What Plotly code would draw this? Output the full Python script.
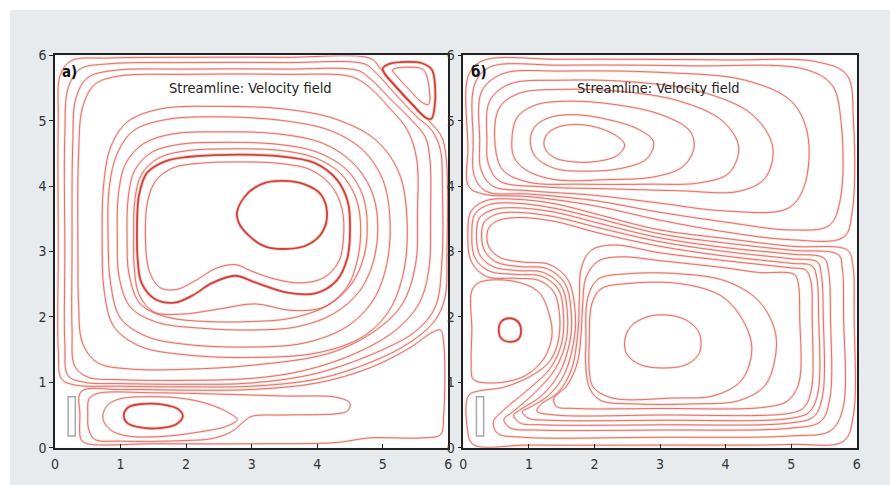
import plotly.graph_objects as go

# ---------------- a) streamlines (x, y in cavity units) ----------------
a_core = [(2.78, 3.62), (2.95, 3.9), (3.2, 4.05), (3.5, 4.08), (3.8, 4.03), (4.05, 3.88), (4.15, 3.6),
          (4.08, 3.3), (3.85, 3.1), (3.55, 3.04), (3.2, 3.08), (2.95, 3.25), (2.8, 3.45)]
a_m11 = [(1.38, 3.2), (1.42, 3.8), (1.55, 4.1), (1.8, 4.28), (2.2, 4.35), (2.8, 4.37), (3.4, 4.35), (3.9, 4.25),
         (4.22, 4.0), (4.38, 3.65), (4.4, 3.2), (4.33, 2.85), (4.1, 2.6), (3.75, 2.52), (3.35, 2.58), (3.0, 2.7),
         (2.75, 2.8), (2.45, 2.74), (2.15, 2.56), (1.85, 2.42), (1.6, 2.45), (1.44, 2.7)]
a_m10 = [(1.25, 3.2), (1.28, 3.85), (1.4, 4.2), (1.68, 4.38), (2.05, 4.45), (2.6, 4.48), (3.4, 4.46), (3.95, 4.36),
         (4.3, 4.1), (4.47, 3.75), (4.5, 3.3), (4.46, 2.9), (4.3, 2.56), (3.97, 2.36), (3.55, 2.37), (3.05, 2.53),
         (2.75, 2.63), (2.4, 2.52), (2.1, 2.33), (1.83, 2.22), (1.53, 2.27), (1.32, 2.52), (1.26, 2.9)]
a_m9 = [(1.2, 3.2), (1.22, 3.8), (1.32, 4.18), (1.58, 4.43), (2.0, 4.54), (2.6, 4.57), (3.4, 4.55), (3.95, 4.44),
        (4.35, 4.2), (4.58, 3.85), (4.66, 3.45), (4.62, 2.9), (4.45, 2.45), (4.1, 2.15), (3.6, 2.1), (3.05, 2.2),
        (2.5, 2.12), (1.9, 2.04), (1.5, 2.08), (1.28, 2.35), (1.21, 2.75)]
a_m8 = [(1.10, 3.2), (1.12, 3.85), (1.22, 4.25), (1.48, 4.52), (1.9, 4.64), (2.5, 4.67), (3.4, 4.64), (4.0, 4.52),
        (4.45, 4.25), (4.68, 3.9), (4.76, 3.5), (4.72, 2.95), (4.52, 2.5), (4.15, 2.17), (3.6, 1.98), (3.0, 1.93),
        (2.3, 1.93), (1.7, 2.0), (1.3, 2.2), (1.13, 2.65)]
a_m7 = [(0.95, 3.2), (0.97, 3.9), (1.08, 4.35), (1.35, 4.65), (1.8, 4.8), (2.5, 4.83), (3.4, 4.8), (4.1, 4.65),
        (4.55, 4.35), (4.82, 3.95), (4.92, 3.5), (4.87, 2.9), (4.65, 2.4), (4.25, 2.05), (3.7, 1.85), (3.0, 1.8),
        (2.2, 1.83), (1.55, 1.92), (1.15, 2.15), (0.98, 2.6)]
a_m6 = [(0.81, 3.2), (0.83, 4.0), (0.95, 4.5), (1.2, 4.85), (1.7, 5.02), (2.5, 5.06), (3.5, 5.0), (4.2, 4.85),
        (4.7, 4.55), (5.0, 4.1), (5.11, 3.5), (5.06, 2.8), (4.85, 2.25), (4.45, 1.85), (3.8, 1.6), (3.0, 1.54),
        (2.0, 1.58), (1.4, 1.7), (1.0, 1.98), (0.85, 2.5)]
a_m5 = [(0.72, 3.2), (0.74, 4.0), (0.85, 4.6), (1.1, 4.98), (1.6, 5.18), (2.5, 5.22), (3.5, 5.18), (4.3, 5.02),
        (4.9, 4.7), (5.25, 4.2), (5.37, 3.5), (5.32, 2.7), (5.1, 2.1), (4.7, 1.7), (4.0, 1.45), (3.0, 1.38),
        (2.0, 1.42), (1.3, 1.55), (0.9, 1.85), (0.75, 2.4)]
a_o1 = [(0.35, 3.0), (0.36, 4.5), (0.42, 5.2), (0.6, 5.55), (0.95, 5.68), (2.0, 5.71), (3.5, 5.71), (4.5, 5.68),
        (4.75, 5.55), (5.1, 5.2), (5.38, 4.85), (5.52, 4.4), (5.53, 3.6), (5.5, 2.8), (5.3, 2.2), (4.9, 1.8),
        (4.2, 1.45), (3.0, 1.26), (2.0, 1.2), (1.2, 1.2), (0.65, 1.3), (0.42, 1.6), (0.36, 2.2)]
a_o2 = [(0.26, 3.0), (0.27, 4.6), (0.32, 5.35), (0.5, 5.66), (0.9, 5.77), (2.0, 5.79), (3.5, 5.79), (4.62, 5.77),
        (4.8, 5.65), (5.15, 5.3), (5.45, 5.0), (5.65, 4.75), (5.72, 4.4), (5.73, 3.6), (5.7, 2.7), (5.55, 2.2),
        (5.2, 1.8), (4.6, 1.45), (3.8, 1.18), (3.0, 1.06), (2.0, 1.03), (1.0, 1.04), (0.5, 1.08), (0.3, 1.25),
        (0.26, 1.8)]
a_o3 = [(0.15, 3.0), (0.15, 4.8), (0.2, 5.5), (0.38, 5.79), (0.8, 5.87), (2.0, 5.89), (3.5, 5.89), (4.72, 5.87),
        (4.88, 5.75), (5.2, 5.4), (5.5, 5.08), (5.75, 4.85), (5.88, 4.55), (5.91, 4.0), (5.9, 2.8), (5.8, 2.15),
        (5.5, 1.78), (5.0, 1.5), (4.0, 1.14), (3.0, 0.99), (2.0, 0.97), (1.0, 0.98), (0.45, 1.0), (0.2, 1.1),
        (0.15, 1.6)]
a_o4 = [(0.05, 3.0), (0.05, 5.0), (0.08, 5.7), (0.25, 5.92), (0.8, 5.96), (2.0, 5.97), (3.5, 5.97), (4.82, 5.95),
        (4.96, 5.8), (5.25, 5.48), (5.55, 5.15), (5.75, 4.95), (5.9, 4.75), (5.97, 4.4), (5.98, 3.0), (5.95, 2.3),
        (5.8, 1.95), (5.4, 1.6), (4.8, 1.3), (4.0, 1.05), (3.0, 0.94), (2.0, 0.93), (1.0, 0.94), (0.3, 0.96),
        (0.1, 1.05), (0.05, 1.5)]
a_corner_outer = [(5.0, 5.8), (5.1, 5.87), (5.35, 5.9), (5.6, 5.88), (5.75, 5.78), (5.8, 5.5), (5.79, 5.2),
                  (5.74, 5.03), (5.65, 5.05), (5.45, 5.25), (5.2, 5.52), (5.03, 5.72)]
a_corner_inner = [(5.15, 5.78), (5.4, 5.82), (5.62, 5.78), (5.7, 5.55), (5.7, 5.25), (5.6, 5.28), (5.4, 5.48),
                  (5.2, 5.7)]
a_bottom_core = [(1.05, 0.5), (1.12, 0.62), (1.35, 0.67), (1.65, 0.66), (1.88, 0.59), (1.95, 0.48), (1.85, 0.36),
                 (1.6, 0.3), (1.3, 0.31), (1.1, 0.38)]
a_bottom_drop = [(0.73, 0.45), (0.8, 0.65), (1.0, 0.75), (1.4, 0.78), (1.9, 0.76), (2.3, 0.68), (2.62, 0.55),
                 (2.78, 0.43), (2.62, 0.33), (2.2, 0.24), (1.6, 0.17), (1.1, 0.18), (0.85, 0.27)]
a_bottom_long = [(0.5, 0.5), (0.52, 0.75), (0.65, 0.83), (1.5, 0.84), (2.5, 0.82), (3.5, 0.79), (4.3, 0.77),
                 (4.5, 0.68), (4.46, 0.56), (4.3, 0.52), (3.5, 0.5), (3.0, 0.48), (2.88, 0.4), (2.7, 0.25),
                 (2.4, 0.14), (2.0, 0.11), (1.0, 0.1), (0.6, 0.13), (0.51, 0.3)]
a_bottom_right = [(0.38, 0.5), (0.4, 0.86), (1.0, 0.89), (2.0, 0.88), (3.0, 0.89), (4.0, 0.99), (4.8, 1.22),
                  (5.4, 1.52), (5.75, 1.76), (5.88, 1.8), (5.93, 1.6), (5.93, 0.5), (5.88, 0.2), (5.6, 0.15),
                  (4.8, 0.15), (4.3, 0.08), (3.0, 0.06), (1.5, 0.06), (0.5, 0.06), (0.4, 0.12)]

# ---------------- б) streamlines ----------------
b_u1 = [(1.23, 4.68), (1.3, 4.82), (1.5, 4.92), (1.8, 4.94), (2.1, 4.88), (2.35, 4.76), (2.46, 4.63), (2.35, 4.47),
        (2.05, 4.38), (1.7, 4.37), (1.4, 4.43), (1.26, 4.55)]
b_u2 = [(1.02, 4.7), (1.1, 4.92), (1.35, 5.06), (1.75, 5.09), (2.2, 5.02), (2.65, 4.88), (2.9, 4.68), (2.8, 4.42),
        (2.4, 4.27), (1.9, 4.23), (1.4, 4.27), (1.1, 4.45)]
b_u3 = [(0.74, 4.7), (0.82, 5.05), (1.1, 5.24), (1.6, 5.3), (2.3, 5.25), (3.0, 5.1), (3.45, 4.85), (3.52, 4.6),
        (3.35, 4.3), (2.9, 4.14), (2.2, 4.1), (1.4, 4.1), (0.95, 4.25), (0.77, 4.45)]
b_u4 = [(0.48, 4.7), (0.55, 5.2), (0.85, 5.42), (1.5, 5.48), (2.4, 5.45), (3.3, 5.3), (3.95, 5.0), (4.2, 4.6),
        (4.05, 4.2), (3.6, 4.05), (2.8, 4.03), (1.8, 4.03), (1.0, 4.06), (0.6, 4.25)]
b_u5 = [(0.36, 4.7), (0.4, 5.3), (0.7, 5.56), (1.5, 5.62), (2.5, 5.6), (3.6, 5.45), (4.4, 5.1), (4.72, 4.6),
        (4.6, 4.12), (4.2, 3.92), (3.3, 3.93), (2.2, 3.96), (1.2, 3.99), (0.55, 4.08), (0.38, 4.35)]
b_u6 = [(0.25, 4.7), (0.28, 5.45), (0.6, 5.72), (1.5, 5.76), (3.0, 5.74), (4.3, 5.62), (5.0, 5.3), (5.25, 4.8),
        (5.2, 4.0), (4.95, 3.66), (4.0, 3.62), (3.0, 3.74), (2.0, 3.86), (1.0, 3.93), (0.45, 4.0), (0.27, 4.25)]
b_u7 = [(0.15, 4.7), (0.17, 5.55), (0.4, 5.82), (1.5, 5.85), (3.5, 5.84), (5.2, 5.79), (5.62, 5.55), (5.76, 5.0),
        (5.75, 3.8), (5.58, 3.4), (5.0, 3.33), (4.0, 3.45), (3.0, 3.6), (2.0, 3.78), (1.0, 3.88), (0.35, 3.92),
        (0.17, 4.15)]
b_u8 = [(0.07, 4.6), (0.08, 5.7), (0.3, 5.92), (1.5, 5.94), (4.0, 5.93), (5.4, 5.9), (5.85, 5.7), (5.95, 5.0),
        (5.93, 3.6), (5.8, 3.22), (5.0, 3.18), (4.0, 3.3), (3.0, 3.48), (2.0, 3.7), (1.0, 3.84), (0.3, 3.88),
        (0.08, 4.0)]
b_l1 = [(5.86, 3.02), (5.0, 3.08), (4.0, 3.2), (3.0, 3.33), (2.0, 3.58), (1.4, 3.73), (0.8, 3.8), (0.35, 3.78),
        (0.12, 3.62), (0.07, 3.3), (0.12, 2.85), (0.35, 2.62), (0.8, 2.59), (1.15, 2.56), (1.38, 2.38), (1.47, 2.0),
        (1.44, 1.6), (1.3, 1.3), (1.0, 1.08), (0.6, 0.92), (0.25, 0.87), (0.08, 0.8), (0.06, 0.3), (0.15, 0.05),
        (1.0, 0.04), (3.0, 0.04), (5.0, 0.05), (5.8, 0.1), (5.95, 0.5), (5.96, 2.0), (5.94, 2.8)]
b_l2 = [(5.72, 2.95), (5.0, 3.02), (4.0, 3.13), (3.0, 3.27), (2.0, 3.52), (1.4, 3.66), (0.8, 3.74), (0.4, 3.72),
        (0.18, 3.58), (0.13, 3.3), (0.18, 2.9), (0.4, 2.7), (0.8, 2.65), (1.2, 2.62), (1.45, 2.42), (1.53, 2.0),
        (1.5, 1.6), (1.33, 1.22), (1.0, 0.9), (0.62, 0.58), (0.46, 0.4), (0.52, 0.22), (0.9, 0.16), (3.0, 0.16),
        (5.0, 0.18), (5.6, 0.26), (5.79, 0.6), (5.8, 2.0), (5.78, 2.75)]
b_l3 = [(5.5, 2.9), (5.0, 2.96), (4.0, 3.06), (3.0, 3.21), (2.0, 3.45), (1.4, 3.6), (0.8, 3.67), (0.45, 3.64),
        (0.25, 3.52), (0.2, 3.3), (0.25, 2.95), (0.45, 2.77), (0.8, 2.71), (1.22, 2.68), (1.5, 2.46), (1.59, 2.0),
        (1.56, 1.6), (1.4, 1.2), (1.1, 0.85), (0.77, 0.56), (0.62, 0.43), (0.72, 0.3), (1.1, 0.27), (3.0, 0.27),
        (5.0, 0.3), (5.45, 0.4), (5.59, 0.75), (5.6, 2.0), (5.57, 2.7)]
b_l4 = [(5.4, 2.84), (5.0, 2.89), (4.0, 3.0), (3.0, 3.15), (2.0, 3.38), (1.4, 3.53), (0.8, 3.6), (0.5, 3.57),
        (0.32, 3.45), (0.28, 3.3), (0.32, 3.02), (0.5, 2.84), (0.85, 2.77), (1.27, 2.74), (1.55, 2.51), (1.65, 2.0),
        (1.62, 1.6), (1.47, 1.15), (1.2, 0.8), (0.9, 0.6), (0.77, 0.5), (0.86, 0.38), (1.2, 0.35), (3.0, 0.35),
        (5.0, 0.38), (5.35, 0.48), (5.48, 0.8), (5.49, 2.0), (5.46, 2.65)]
b_l5 = [(5.32, 2.78), (5.0, 2.82), (4.0, 2.93), (3.0, 3.08), (2.0, 3.3), (1.4, 3.46), (0.85, 3.52), (0.55, 3.48),
        (0.4, 3.38), (0.36, 3.25), (0.4, 3.05), (0.58, 2.9), (0.9, 2.84), (1.32, 2.8), (1.6, 2.56), (1.71, 2.0),
        (1.68, 1.6), (1.54, 1.12), (1.3, 0.8), (1.02, 0.62), (0.9, 0.55), (1.0, 0.45), (1.3, 0.42), (3.0, 0.42),
        (5.0, 0.45), (5.28, 0.55), (5.41, 0.85), (5.42, 2.0), (5.39, 2.6)]
b_l6 = [(5.22, 2.72), (5.0, 2.75), (4.0, 2.86), (3.0, 2.98), (2.3, 3.1), (1.95, 3.02), (1.8, 2.75), (1.77, 2.3),
        (1.75, 1.8), (1.65, 1.2), (1.45, 0.85), (1.18, 0.66), (1.12, 0.56), (1.4, 0.5), (3.0, 0.5), (5.0, 0.53),
        (5.2, 0.62), (5.31, 0.9), (5.32, 2.0), (5.3, 2.55)]
b_l7 = [(5.05, 2.65), (4.5, 2.68), (4.0, 2.75), (3.0, 2.86), (2.4, 2.92), (2.05, 2.85), (1.87, 2.6), (1.82, 2.2),
        (1.8, 1.8), (1.74, 1.3), (1.58, 0.95), (1.38, 0.75), (1.42, 0.63), (1.7, 0.6), (3.0, 0.6), (4.6, 0.62),
        (4.95, 0.72), (5.12, 1.0), (5.13, 2.0), (5.11, 2.5)]
b_d2 = [(1.87, 1.6), (1.9, 2.3), (2.06, 2.58), (2.5, 2.66), (3.3, 2.66), (4.0, 2.55), (4.5, 2.25), (4.75, 1.8),
        (4.76, 1.4), (4.6, 0.95), (4.2, 0.72), (3.5, 0.67), (2.6, 0.67), (2.1, 0.72), (1.93, 0.9), (1.87, 1.2)]
b_d1 = [(1.92, 1.6), (1.96, 2.2), (2.1, 2.43), (2.5, 2.51), (3.3, 2.51), (3.95, 2.31), (4.29, 1.9), (4.4, 1.5),
        (4.25, 1.04), (3.84, 0.8), (3.2, 0.76), (2.27, 0.76), (1.98, 0.93), (1.92, 1.2)]
b_d0 = [(2.46, 1.62), (2.55, 1.85), (2.8, 2.0), (3.1, 2.03), (3.4, 1.95), (3.6, 1.75), (3.6, 1.45), (3.4, 1.27),
        (3.0, 1.22), (2.7, 1.27), (2.5, 1.42)]
b_s1 = [(0.13, 1.8), (0.13, 2.4), (0.25, 2.53), (0.74, 2.55), (1.15, 2.38), (1.32, 2.0), (1.35, 1.7), (1.22, 1.35),
        (0.9, 1.08), (0.4, 0.99), (0.15, 1.05), (0.12, 1.3)]
b_s0 = [(0.54, 1.8), (0.58, 1.93), (0.7, 1.98), (0.83, 1.93), (0.88, 1.8), (0.84, 1.66), (0.71, 1.62), (0.58, 1.67)]

# loop groups by line weight
a_thin = [a_m11, a_m9, a_m8, a_m7, a_m6, a_m5, a_o1, a_o2, a_o3, a_o4, a_corner_inner,
          a_bottom_drop, a_bottom_long, a_bottom_right]
a_thick = [a_core, a_m10, a_corner_outer, a_bottom_core]
b_thin = [b_u1, b_u2, b_u3, b_u4, b_u5, b_u6, b_u7, b_u8, b_l1, b_l2, b_l3, b_l4, b_l5, b_l6, b_l7,
          b_d2, b_d1, b_d0, b_s1]
b_thick = [b_s0]

# heater outline (x0, y0, x1, y1) in cavity units, shared by both cases
inlet_box = [0.2, 0.18, 0.31, 0.78]

ticks = [0, 1, 2, 3, 4, 5, 6]
panel_labels = ["a)", "б)"]
panel_title = "Streamline: Velocity field"

FONT = "DejaVu Sans Condensed, Liberation Sans Narrow, Roboto, sans-serif"
PAGE_GREY = "#e7ebee"


def join_loops(loops):
    xs, ys = [], []
    for loop in loops:
        pts = list(loop) + [loop[0]]
        xs += [p[0] for p in pts] + [None]
        ys += [p[1] for p in pts] + [None]
    return xs, ys


fig = go.Figure()

styles = {
    "thin": [(2.6, "rgba(240,160,150,0.32)"), (1.0, "rgba(216,84,72,0.80)")],
    "thick": [(3.6, "rgba(235,135,125,0.35)"), (1.8, "rgba(200,45,36,0.88)")],
}

for ax_suffix, groups in (("", (a_thin, a_thick)), ("2", (b_thin, b_thick))):
    for kind, loops in zip(("thin", "thick"), groups):
        xs, ys = join_loops(loops)
        for width, color in styles[kind]:
            fig.add_trace(go.Scatter(
                x=xs, y=ys, mode="lines", xaxis="x" + ax_suffix, yaxis="y" + ax_suffix,
                line=dict(color=color, width=width, shape="spline", smoothing=1.0),
                hoverinfo="skip", showlegend=False))

axis_common = dict(range=[0, 6], tickvals=ticks, showgrid=False, zeroline=False,
                   showline=True, linecolor="#222", linewidth=1.6, mirror=True, automargin=False,
                   tickfont=dict(family=FONT, size=14, color="#333"), ticklen=4, tickcolor="#222",
                   fixedrange=True)

y_dom = [0.0769, 0.8858]
fig.update_layout(
    width=890, height=485,
    margin=dict(l=0, r=0, t=0, b=0, pad=0, autoexpand=False),
    paper_bgcolor=PAGE_GREY,
    plot_bgcolor="white",
    xaxis=dict(domain=[0.0618, 0.5037], anchor="y", ticks="inside", ticklabelstandoff=3, **axis_common),
    yaxis=dict(domain=y_dom, anchor="x", ticks="outside", **axis_common),
    xaxis2=dict(domain=[0.5206, 0.9626], anchor="y2", ticks="inside", ticklabelstandoff=3, **axis_common),
    yaxis2=dict(domain=y_dom, anchor="x2", ticks="outside", **axis_common),
)

# white page margin along the top and left edges
fig.add_shape(type="rect", xref="paper", yref="paper", x0=0, x1=1, y0=1 - 10 / 485, y1=1,
              fillcolor="white", line=dict(width=0), layer="below")
fig.add_shape(type="rect", xref="paper", yref="paper", x0=0, x1=10 / 890, y0=0, y1=1,
              fillcolor="white", line=dict(width=0), layer="below")

for i, ax in enumerate(("", "2")):
    fig.add_shape(type="rect", xref="x" + ax, yref="y" + ax,
                  x0=inlet_box[0], y0=inlet_box[1], x1=inlet_box[2], y1=inlet_box[3],
                  line=dict(color="#a8a8a8", width=1.5), fillcolor="white")
    fig.add_annotation(xref="x" + ax, yref="y" + ax, x=0.08, y=5.74, text="<b>" + panel_labels[i] + "</b>",
                       showarrow=False, xanchor="left", yanchor="middle",
                       font=dict(family=FONT, size=15, color="#111"))
    fig.add_annotation(xref="x" + ax, yref="y" + ax, x=2.98, y=5.5, text=panel_title,
                       showarrow=False, xanchor="center", yanchor="middle",
                       font=dict(family=FONT, size=14.5, color="#222"))

# page background matches the grey panel so no white shows past the figure
fig.write_html("out.html", post_script="document.body.style.background = '#e7ebee';")
